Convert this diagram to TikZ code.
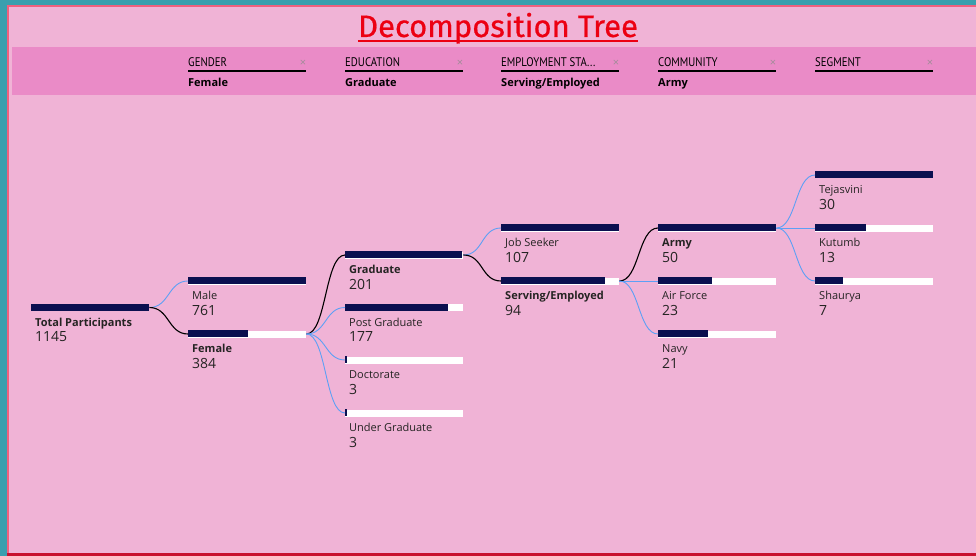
\documentclass[tikz,border=0pt]{standalone}
\usepackage{fontspec}
\setmainfont{Open Sans}
\newfontfamily\titlefont[FakeBold=0.6]{Fira Sans}
\newfontfamily\hdrfont[FakeStretch=0.86]{PT Sans}
\definecolor{bgteal}{HTML}{3A9FAE}
\definecolor{panel}{HTML}{F0B3D6}
\definecolor{band}{HTML}{EA8BC7}
\definecolor{coral}{HTML}{F0607E}
\definecolor{botred}{HTML}{C8102E}
\definecolor{titlered}{HTML}{EC0012}
\definecolor{navy}{HTML}{0B1050}
\definecolor{linkblue}{HTML}{5DA0F5}
\definecolor{txt}{HTML}{252423}
\definecolor{xgray}{HTML}{A08C98}
\tikzset{
  barbox/.style={draw=none, fill=white, minimum width=118pt, minimum height=7pt, inner sep=0pt, anchor=west},
  lbl/.style={font=\fontsize{11}{13}\selectfont, text=txt, inner sep=0pt, anchor=base west},
  num/.style={font=\fontsize{14}{15}\selectfont, text=txt, inner sep=0pt, anchor=base west},
  link/.style={linkblue, line width=0.9pt},
  sel/.style={black, line width=1.1pt},
  hdr/.style={font=\hdrfont\fontsize{12.5}{14}\selectfont, text=black, inner sep=0pt, anchor=base west},
  hval/.style={font=\bfseries\fontsize{11}{13}\selectfont, text=black, inner sep=0pt, anchor=base west},
}
\newcommand\dtbar[6]{% name, x, y, dark width, label, number
  \node[barbox] (#1) at (#2,#3) {};
  \fill[navy] (#1.north west) rectangle ++(#4,7);
  \node[lbl] (#1-l) at ([xshift=4pt,yshift=-18.5pt]#1.west) {#5};
  \node[num] (#1-n) at ([xshift=4pt,yshift=-34pt]#1.west) {#6};
}
\newcommand\dthdr[4]{% name, x, title, value
  \node[hdr] (#1) at (#2,67) {#3};
  \coordinate (#1-a) at (#2,71);
  \coordinate (#1-b) at (#2+118,71);
  \draw[black, line width=1.8pt] (#1-a) -- (#1-b);
  \node[font=\fontsize{11}{11}\selectfont, text=xgray, inner sep=0pt] (#1-x) at (#2+115,63) {×};
  \node[hval] (#1-v) at (#2,87) {#4};
}
\newcommand\conn[3]{\draw[#1] (#2.east) .. controls +(20,0) and +(-20,0) .. (#3.west);}
\begin{document}
\begin{tikzpicture}[x=1pt,y=-1pt]
\useasboundingbox (0,0) rectangle (976,556);
\fill[bgteal] (0,0) rectangle (976,556);
\fill[panel] (7,5) rectangle (976,556);
\draw[coral, line width=2pt] (8,556) -- (8,6) -- (976,6);
\fill[botred] (7,553) rectangle (976,556);
\fill[band] (12,47) rectangle (976,95);
% title
\node[font=\titlefont\fontsize{31}{33}\selectfont, text=titlered, inner sep=0pt, anchor=base] (title) at (498,37) {Decomposition Tree};
\draw[titlered, line width=2.2pt] ([yshift=-4pt]title.base west) -- ([yshift=-4pt]title.base east);
% header
\dthdr{h1}{188}{GENDER}{Female}
\dthdr{h2}{345}{EDUCATION}{Graduate}
\dthdr{h3}{501}{EMPLOYMENT STA...}{Serving/Employed}
\dthdr{h4}{658}{COMMUNITY}{Army}
\dthdr{h5}{815}{SEGMENT}{}
% bars
\dtbar{tot}{31}{307.5}{118}{\bfseries Total Participants}{1145}
\dtbar{male}{188}{281}{118}{Male}{761}
\dtbar{female}{188}{334}{59.5}{\bfseries Female}{384}
\dtbar{grad}{345}{255}{117}{\bfseries Graduate}{201}
\dtbar{pg}{345}{307.5}{103}{Post Graduate}{177}
\dtbar{doc}{345}{360}{2}{Doctorate}{3}
\dtbar{ug}{345}{413}{2}{Under Graduate}{3}
\dtbar{job}{501}{228}{118}{Job Seeker}{107}
\dtbar{serv}{501}{281}{104}{\bfseries Serving/Employed}{94}
\dtbar{army}{658}{228}{118}{\bfseries Army}{50}
\dtbar{af}{658}{281}{54}{Air Force}{23}
\dtbar{navyb}{658}{334}{50}{Navy}{21}
\dtbar{tej}{815}{175}{118}{Tejasvini}{30}
\dtbar{kut}{815}{228}{51}{Kutumb}{13}
\dtbar{sha}{815}{281}{28}{Shaurya}{7}
% connectors
\conn{link}{tot}{male}
\conn{sel}{tot}{female}
\conn{sel}{female}{grad}
\conn{link}{female}{pg}
\conn{link}{female}{doc}
\conn{link}{female}{ug}
\conn{link}{grad}{job}
\conn{sel}{grad}{serv}
\conn{sel}{serv}{army}
\conn{link}{serv}{af}
\conn{link}{serv}{navyb}
\conn{link}{army}{tej}
\conn{link}{army}{kut}
\conn{link}{army}{sha}
\end{tikzpicture}
\end{document}
